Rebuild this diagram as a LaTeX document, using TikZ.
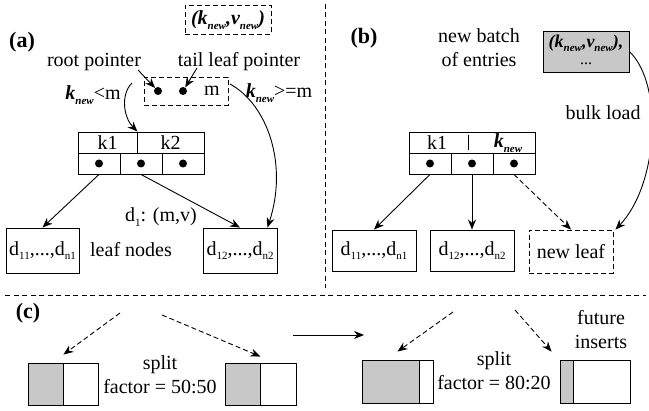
\documentclass[tikz,border=0pt]{standalone}
\usepackage{fontspec}
\setmainfont{Liberation Serif}
\usetikzlibrary{arrows.meta,calc}

\definecolor{cellgray}{RGB}{200,200,200}

% lowered small subscript in text font
\newcommand\lowsub[1]{\raisebox{-0.5ex}{\fontsize{11}{11}\selectfont #1}}
\newcommand\knew{\textbf{\textit{k}}\lowsub{\textbf{\textit{new}}}}
\newcommand\vnew{\textbf{\textit{v}}\lowsub{\textbf{\textit{new}}}}

\begin{document}
\begin{tikzpicture}[x=1pt,y=-1pt,
  every node/.style={font=\fontsize{20}{24}\selectfont, inner sep=0pt},
  box/.style={draw, line width=0.9pt, inner sep=0pt},
  dbox/.style={box, dash pattern=on 5pt off 3pt},
  gcell/.style={box, fill=cellgray},
  dot/.style={circle, fill, inner sep=0pt, minimum size=8pt},
  arr/.style={line width=0.9pt, -{Stealth[length=10pt,width=8pt]}},
  darr/.style={arr, dash pattern=on 5pt off 3pt},
  divider/.style={line width=0.8pt, dash pattern=on 5pt off 3.5pt},
  lbl/.style={align=center},
  tag/.style={font=\fontsize{22}{24}\selectfont\bfseries}]

\useasboundingbox (0,0) rectangle (649,411);

% ---------------- panel (a): single insert ----------------
\node[tag] (taga) at (22,42) {(a)};
\node[dbox, minimum width=86pt, minimum height=29pt] (newkv) at (228,20)
  {\bfseries\itshape(\knew,\vnew)};

\node[lbl] (rootlbl) at (94,62) {root pointer};
\node[lbl] (taillbl) at (239,62) {tail leaf pointer};

\node[dbox, minimum width=84pt, minimum height=28pt] (meta) at (186,91) {};
\node[dot] (rp) at (158,91) {};
\node[dot] (tp) at (183,91) {};
\node (mval) at (212,91) {m};

\node (ltm) at (93,95) {\knew<m};
\node (gem) at (279,93) {\knew>=m};

\coordinate (rootfrom) at (138,70);
\coordinate (tailfrom) at (197,68);
\draw[arr] (rootfrom) -- (rp);
\draw[arr] (tailfrom) -- (tp);

% inner node
\node[box, minimum width=59pt, minimum height=21pt] (ka1) at (107.5,142.5) {k1};
\node[box, minimum width=67pt, minimum height=21pt] (ka2) at (170.5,142.5) {k2};
\node[box, minimum width=42pt, minimum height=21pt] (pa1) at (99,163.5) {};
\node[box, minimum width=42pt, minimum height=21pt] (pa2) at (141,163.5) {};
\node[box, minimum width=42pt, minimum height=21pt] (pa3) at (183,163.5) {};
\node[dot] (da1) at (pa1) {};
\node[dot] (da2) at (pa2) {};
\node[dot] (da3) at (pa3) {};

% leaves
\node[box, minimum width=73pt, minimum height=45pt] (leafa1) at (42.5,250.5)
  {d\lowsub{11},...,d\lowsub{n1}};
\node[box, minimum width=74pt, minimum height=45pt] (leafa2) at (240,250.5)
  {d\lowsub{12},...,d\lowsub{n2}};
\node (leaflbl) at (131,250) {leaf nodes};
\node (d1lbl) at (161,217) {d\lowsub{1}: (m,v)};

\draw[arr] (pa1.south) -- (leafa1.north);
\draw[arr] (pa2.south) -- (leafa2.north);

\coordinate (lstart) at (132,83);
\coordinate (rstart) at (230,84);
\draw[arr] (lstart) .. controls (120,95) and (124,118) .. (ka1.north east);
\draw[arr] (rstart) .. controls (268,105) and (288,165) .. ([xshift=-10pt]leafa2.north east);

% ---------------- dividers ----------------
\coordinate (vtop) at (325,4);
\coordinate (vbot) at (325,288);
\coordinate (hleft) at (5,295);
\coordinate (hright) at (646,295);
\draw[divider] (vtop) -- (vbot);
\draw[divider] (hleft) -- (hright);

% ---------------- panel (b): bulk load ----------------
\node[tag] (tagb) at (364,38) {(b)};
\node[lbl] (batchlbl) at (479,48) {new batch\\of entries};
\node[gcell, minimum width=86pt, minimum height=41pt] (gbatch) at (586,51.5) {};
\node[font=\fontsize{18}{20}\selectfont\bfseries\itshape] (gtext) at (586,43)
  {(\knew,\vnew),};
\node[font=\fontsize{16}{16}\selectfont] (gdots) at (586,64) {...};
\node (bulklbl) at (603,113) {bulk load};

\node[box, minimum width=126pt, minimum height=21pt] (kb) at (472,142.5) {};
\draw[line width=0.9pt] ([xshift=-4pt,yshift=-3pt]kb.north) -- ([xshift=-4pt,yshift=3pt]kb.south);
\node (kb1) at (437,143) {k1};
\node (kb2) at (508,143) {\knew};
\node[box, minimum width=42pt, minimum height=21pt] (pb1) at (430,163.5) {};
\node[box, minimum width=42pt, minimum height=21pt] (pb2) at (472,163.5) {};
\node[box, minimum width=42pt, minimum height=21pt] (pb3) at (514,163.5) {};
\node[dot] (db1) at (pb1) {};
\node[dot] (db2) at (pb2) {};
\node[dot] (db3) at (pb3) {};

\node[box, minimum width=84pt, minimum height=41pt] (lb1) at (374,250.5)
  {d\lowsub{11},...,d\lowsub{n1}};
\node[box, minimum width=84pt, minimum height=41pt] (lb2) at (472,250.5)
  {d\lowsub{12},...,d\lowsub{n2}};
\node[dbox, minimum width=84pt, minimum height=43pt] (newleaf) at (571,251.5) {new leaf};

\draw[arr] (pb1.south) -- (lb1.north);
\draw[arr] (pb2.south) -- (lb2.north);
\draw[darr] (pb3.south) -- (newleaf.north);
\draw[arr] (gbatch.east) .. controls (664,85) and (658,185) .. ([xshift=2pt]newleaf.north east);

% ---------------- panel (c): split factor ----------------
\node[tag] (tagc) at (28,313) {(c)};

\node[gcell, minimum width=35pt, minimum height=42pt] (c1g) at (45.5,384) {};
\node[box, minimum width=35pt, minimum height=42pt] (c1w) at (80.5,384) {};
\node[gcell, minimum width=35pt, minimum height=42pt] (c2g) at (242.5,384) {};
\node[box, minimum width=36pt, minimum height=42pt] (c2w) at (278,384) {};
\node[lbl] (split50) at (160,375) {split\\factor = 50:50};

\node[gcell, minimum width=57pt, minimum height=43pt] (c3g) at (390.5,381.5) {};
\node[box, minimum width=14pt, minimum height=43pt] (c3w) at (426,381.5) {};
\node[gcell, minimum width=13pt, minimum height=43pt] (c4g) at (566.5,381.5) {};
\node[box, minimum width=57pt, minimum height=43pt] (c4w) at (601.5,381.5) {};
\node[lbl] (split80) at (494,371) {split\\factor = 80:20};
\node[lbl] (future) at (601,330) {future\\inserts};

\coordinate (s1) at (120,313);
\coordinate (s2) at (162,315);
\coordinate (s3) at (453,312);
\coordinate (s4) at (515,310);
\draw[darr] (s1) -- ([yshift=8pt]c1g.north east);
\draw[darr] (s2) -- ([yshift=6pt]c2g.north east);
\draw[darr] (s3) -- ([xshift=7pt,yshift=8pt]c3g.north);
\draw[darr] (s4) -- ([xshift=-8pt,yshift=8pt]c4g.north west);

\coordinate (tfrom) at (293,335);
\coordinate (tto) at (364,335);
\draw[arr] (tfrom) -- (tto);
\end{tikzpicture}
\end{document}
